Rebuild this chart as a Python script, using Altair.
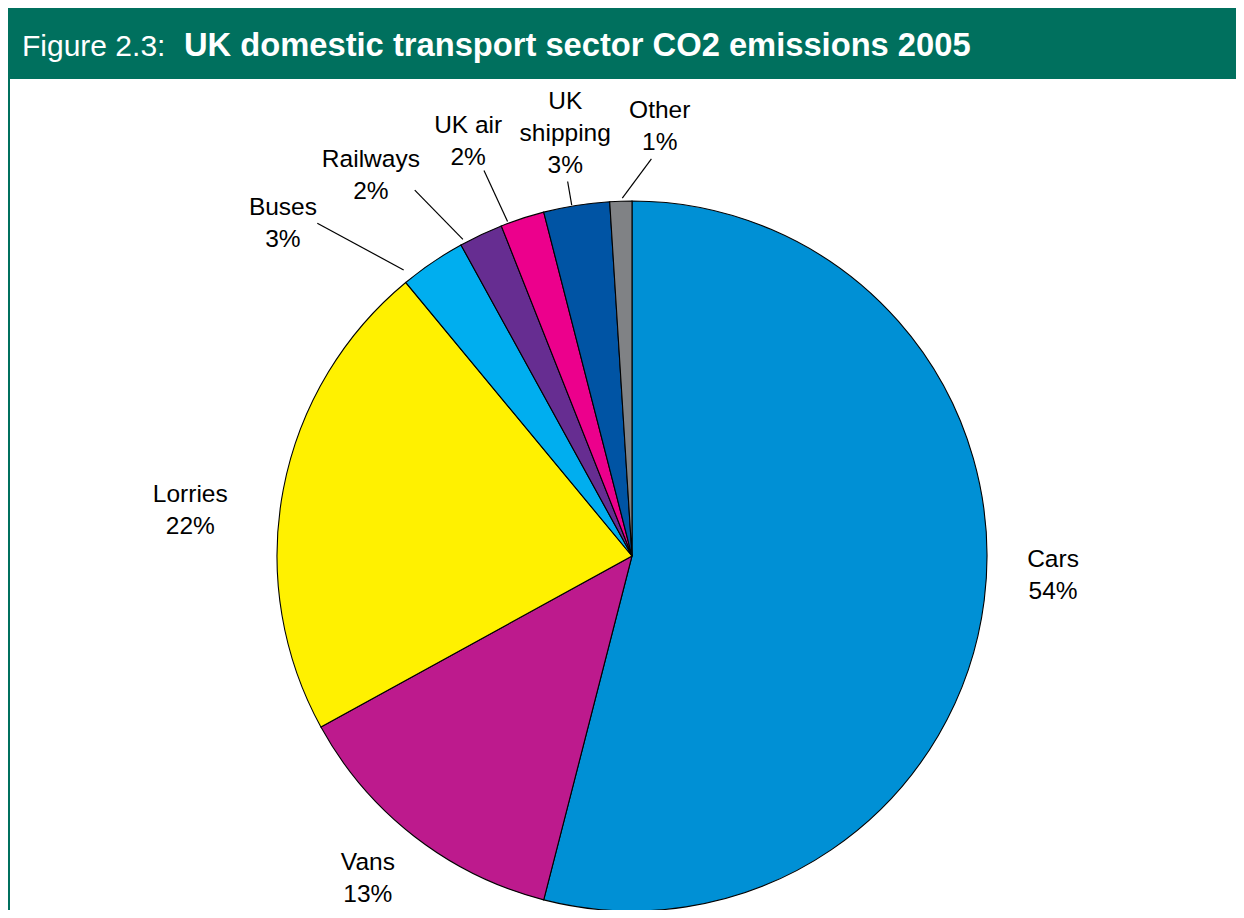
import altair as alt
import pandas as pd

# ---- data ----
categories = ["Cars", "Vans", "Lorries", "Buses", "Railways", "UK air", "UK shipping", "Other"]
values = [54, 13, 22, 3, 2, 2, 3, 1]
label_names = [["Cars"], ["Vans"], ["Lorries"], ["Buses"], ["Railways"], ["UK air"], ["UK", "shipping"], ["Other"]]
colors = ["#0090D5", "#BD1A8D", "#FFF100", "#00AEEF", "#662D91", "#EC008C", "#0054A4", "#808285"]
title_prefix = ["Figure 2.3:"]
title_main = ["UK domestic transport sector CO2 emissions 2005"]

# ---- layout (polar nudges relative to each slice's mid angle) ----
W, H = 1228, 902
CX, CY, R = 624, 548, 355
LINE_H = 32
GREEN = "#00705E"
FONT = "Liberation Sans"
LABEL_LAYOUT = {  # (angle offset deg, radius px)
    "Cars": (-4.5, 421.5),
    "Vans": (1.5, 417),
    "Lorries": (-5.0, 444),
    "Buses": (-12.2, 482),
    "Railways": (-9.3, 461),
    "UK air": (-3.6, 445),
    "UK shipping": (0.0, 427),
    "Other": (5.5, 430),
}
LEADER_LAYOUT = {  # (inner da, inner r, outer da, outer r)
    "Buses": (-4.4, 366, -9.2, 458),
    "Railways": (-2.9, 359, -5.5, 425.5),
    "UK air": (-2.4, 357, -3.0, 413),
    "UK shipping": (-0.75, 356, -0.75, 380),
    "Other": (0.25, 358, 4.6, 397.5),
}

df = pd.DataFrame({
    "category": categories,
    "value": values,
    "order": list(range(len(categories))),
})
df["label"] = [names + [f"{v}%"] for names, v in zip(label_names, values)]
df["lab_da"] = [LABEL_LAYOUT[c][0] for c in categories]
df["lab_r"] = [LABEL_LAYOUT[c][1] for c in categories]
df["leader"] = [c in LEADER_LAYOUT for c in categories]
df["in_da"] = [LEADER_LAYOUT.get(c, (0, 0, 0, 0))[0] for c in categories]
df["in_r"] = [LEADER_LAYOUT.get(c, (0, 0, 0, 0))[1] for c in categories]
df["out_da"] = [LEADER_LAYOUT.get(c, (0, 0, 0, 0))[2] for c in categories]
df["out_r"] = [LEADER_LAYOUT.get(c, (0, 0, 0, 0))[3] for c in categories]

color_scale = alt.Scale(domain=categories, range=colors)

pie = alt.Chart(df).mark_arc(radius=R, stroke="#000000", strokeWidth=1.1).encode(
    theta=alt.Theta("value:Q", stack=True),
    color=alt.Color("category:N", scale=color_scale, legend=None),
    order=alt.Order("order:Q"),
    x=alt.value(CX),
    y=alt.value(CY),
)

base = (
    alt.Chart(df)
    .transform_joinaggregate(total="sum(value)")
    .transform_window(cum="sum(value)", sort=[alt.SortField("order")], frame=[None, 0])
    .transform_calculate(mid="(datum.cum - datum.value / 2) / datum.total * 2 * PI")
)

labels = base.transform_calculate(
    la="datum.mid + datum.lab_da * PI / 180",
).transform_calculate(
    lx=f"{CX} + datum.lab_r * sin(datum.la)",
    ly=f"{CY} - datum.lab_r * cos(datum.la) - (length(datum.label) - 1) * {LINE_H / 2}",
).mark_text(
    font=FONT, fontSize=24.5, lineHeight=LINE_H, color="#000000", align="center", baseline="middle"
).encode(
    x=alt.X("lx:Q", scale=None),
    y=alt.Y("ly:Q", scale=None),
    text="label",
)

leaders = base.transform_filter("datum.leader").transform_calculate(
    ia="datum.mid + datum.in_da * PI / 180",
    oa="datum.mid + datum.out_da * PI / 180",
).transform_calculate(
    x1=f"{CX} + datum.in_r * sin(datum.ia)",
    y1=f"{CY} - datum.in_r * cos(datum.ia)",
    x2=f"{CX} + datum.out_r * sin(datum.oa)",
    y2=f"{CY} - datum.out_r * cos(datum.oa)",
).mark_rule(color="#000000", strokeWidth=1.2).encode(
    x=alt.X("x1:Q", scale=None),
    y=alt.Y("y1:Q", scale=None),
    x2="x2:Q",
    y2="y2:Q",
)

tdf = pd.DataFrame({"prefix": title_prefix, "main": title_main})
title_bar = alt.Chart(tdf).mark_rect(color=GREEN).encode(
    x=alt.value(0), x2=alt.value(W), y=alt.value(0), y2=alt.value(71)
)
left_border = alt.Chart(tdf).mark_rule(color=GREEN, strokeWidth=2).encode(
    x=alt.value(1), y=alt.value(70), y2=alt.value(H)
)
title_a = alt.Chart(tdf).mark_text(
    font=FONT, fontSize=30, color="#FFFFFF", align="left", baseline="alphabetic"
).encode(x=alt.value(14), y=alt.value(48), text="prefix:N")
title_b = alt.Chart(tdf).mark_text(
    font=FONT, fontSize=32.7, fontWeight="bold", color="#FFFFFF", align="left", baseline="alphabetic"
).encode(x=alt.value(176), y=alt.value(48), text="main:N")

chart = alt.layer(title_bar, left_border, title_a, title_b, pie, leaders, labels).properties(
    width=W, height=H, padding=0, autosize="none", background="#FFFFFF"
).configure_view(stroke=None)

chart.save("out.html", embed_options={"renderer": "svg", "actions": False})
